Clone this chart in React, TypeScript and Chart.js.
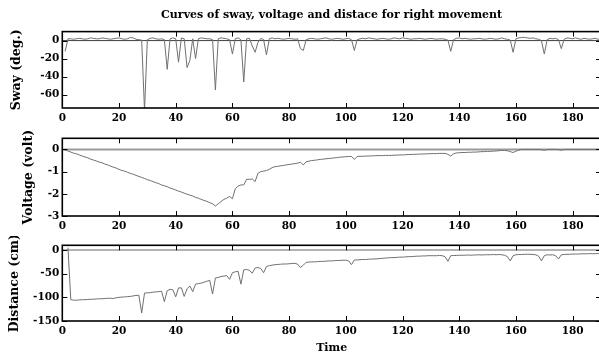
import React, { useEffect, useRef } from "react";
import { Chart, registerables } from "chart.js";

Chart.register(...registerables);

// ---------------- data ----------------
const titleText = "Curves of sway, voltage and distace for right movement";
const xTicks = [0, 20, 40, 60, 80, 100, 120, 140, 160, 180];
const xRange = [0, 190];
const swayTicks = [-60, -40, -20, 0];
const voltTicks = [-3, -2, -1, 0];
const distTicks = [-150, -100, -50, 0];
const zeroLine = [0, 0];

// sampled once per time unit, t = 0 .. 190
const sway: (number | null)[] = [
  null, -12, 2, 2, 1.5, 2, 2.5, 2, 1.5, 2,
  3, 2.5, 2, 2, 3, 2.5, 2, 1.5, 2, 2.5,
  3, 2, 1.5, 2, 3.5, 3, 1.5, 1, 0.5, -78,
  1, 2.5, 3, 2, 1.5, 2, 1, -32, 2, 3,
  2, -24, 3, 2, -30, -22, 2, -20, 2, 3,
  2.5, 2, 2, 1, -55, 2, 3, 2.5, 2, 1,
  -15, 2, 3, 1, -46, 2, 2.5, -6, -13, -2,
  2.5, 1, -16, 2, 3, 2, 2.5, 2, 1.5, 2,
  2.5, 2, 1.5, 2, -9, -11, 1, 2, 2.5, 2,
  1.5, 2, 2.5, 3, 2, 1.5, 2, 2.5, 2, 1.5,
  2, 2.5, 1, -11, 1, 2, 2.5, 2, 3, 2.5,
  2, 1.5, 2, 2.5, 2, 1.5, 2, 3, 2.5, 2,
  3, 2.5, 2, 1.5, 2, 2, 2.5, 2, 1.5, 2,
  2.5, 2, 1.5, 2, 2, 1.5, 0.5, -12, 1, 2.5,
  3, 2, 2.5, 2, 1.5, 2, 2, 2.5, 2, 1.5,
  2, 2.5, 2, 1.5, 2, 3, 2, 1.5, 0.5, -13,
  2, 3, 3.5, 3.5, 3, 2.5, 3, 2, 1.5, 0,
  -15, 1, 2.5, 2, 2.5, 1, -9, 1.5, 3, 2.5,
  2, 3, 2, 1.5, 2.5, 2, 1.5, 2, 2.5, 1.5, 2,
];

const voltage: (number | null)[] = [
  0, -0.03, -0.07, -0.12, -0.17, -0.2, -0.25, -0.3, -0.34, -0.38,
  -0.44, -0.48, -0.52, -0.57, -0.6, -0.66, -0.7, -0.75, -0.8, -0.84,
  -0.9, -0.95, -0.98, -1.03, -1.08, -1.12, -1.17, -1.22, -1.26, -1.31,
  -1.36, -1.4, -1.45, -1.5, -1.54, -1.6, -1.64, -1.68, -1.74, -1.78,
  -1.83, -1.88, -1.92, -1.97, -2.02, -2.06, -2.1, -2.16, -2.2, -2.25,
  -2.3, -2.34, -2.4, -2.45, -2.55, -2.45, -2.35, -2.25, -2.2, -2.12,
  -2.22, -1.78, -1.65, -1.6, -1.6, -1.35, -1.35, -1.33, -1.45, -1.08,
  -1.0, -0.98, -0.95, -0.9, -0.82, -0.78, -0.76, -0.74, -0.72, -0.7,
  -0.68, -0.66, -0.64, -0.62, -0.58, -0.7, -0.56, -0.53, -0.5, -0.49,
  -0.47, -0.45, -0.44, -0.42, -0.41, -0.4, -0.38, -0.37, -0.35, -0.34,
  -0.33, -0.32, -0.32, -0.45, -0.32, -0.31, -0.31, -0.3, -0.3, -0.29,
  -0.29, -0.28, -0.28, -0.28, -0.27, -0.27, -0.27, -0.26, -0.26, -0.25,
  -0.25, -0.24, -0.23, -0.23, -0.22, -0.22, -0.21, -0.21, -0.2, -0.2,
  -0.19, -0.19, -0.19, -0.18, -0.18, -0.18, -0.22, -0.3, -0.2, -0.16,
  -0.15, -0.14, -0.14, -0.13, -0.13, -0.12, -0.12, -0.11, -0.1, -0.1,
  -0.09, -0.09, -0.08, -0.07, -0.06, -0.04, -0.05, -0.06, -0.1, -0.14,
  -0.08, -0.03, 0, 0, 0, 0, 0, 0, 0, -0.01,
  -0.04, 0, 0, 0, 0, -0.01, -0.04, 0, 0, 0,
  0, 0, 0, 0, 0, 0, 0, 0, 0, 0, 0,
];

const distance: (number | null)[] = [
  null, null, 5, -105, -106, -106, -105.5, -105, -105, -104.5,
  -104, -104, -103.5, -103, -103, -102.5, -102, -102, -102.5, -101,
  -100, -99.5, -99, -98.5, -98, -97, -96, -95.5, -133, -91,
  -90.5, -90, -89, -88.5, -88, -87, -109, -86, -83, -84,
  -99, -80, -80, -98, -82, -76, -88, -72, -71, -70,
  -68, -66, -64, -93, -59, -58, -56, -55, -54, -62,
  -48, -46, -45, -72, -42, -41, -43, -49, -38, -37,
  -39, -48, -35, -33, -32, -31, -30.5, -30, -29.5, -29.5,
  -29, -28.5, -28, -30, -37, -32, -26, -25.5, -25, -25,
  -24.5, -24, -24, -23.5, -23, -23, -22.5, -22, -22, -21.5,
  -21.5, -23, -31, -21, -21, -20.5, -20, -20, -19.5, -19,
  -19, -18.5, -18, -17.5, -17, -16.5, -16, -16, -15.5, -15,
  -15, -14.5, -14, -14, -13.5, -13, -13, -12.5, -12.5, -12,
  -12, -12, -12, -11.5, -12, -14, -24, -12, -11.5, -11.5,
  -11, -11, -11, -10.5, -11, -10.5, -10.5, -10, -10.5, -10,
  -10, -10, -9.5, -10, -9.5, -10, -11, -14, -23, -12,
  -10, -9.5, -9.5, -9, -9, -9, -9.5, -10, -13, -23,
  -12, -10, -10.5, -10, -12, -19, -10, -9.5, -9, -9,
  -8.5, -8.5, -8.5, -8, -8, -8, -7.5, -8, -7.5, -7.5, -7,
];

// ---------------- styling ----------------
const FONT = "'DejaVu Serif', 'Liberation Serif', serif";
const CANVAS_W = 601;
const Y_AXIS_W = 62.3;

const boxPlugin = {
  id: "matlabBox",
  afterDatasetsDraw(chart: any) {
    const { ctx, chartArea: a, scales } = chart;
    const L = 5;
    ctx.save();
    ctx.strokeStyle = "#000";
    ctx.lineWidth = 1;
    ctx.beginPath();
    scales.x.ticks.forEach((t: any) => {
      const px = Math.round(scales.x.getPixelForValue(t.value)) + 0.5;
      ctx.moveTo(px, a.top);
      ctx.lineTo(px, a.top + L);
      ctx.moveTo(px, a.bottom);
      ctx.lineTo(px, a.bottom - L);
    });
    scales.y.ticks.forEach((t: any) => {
      const py = Math.round(scales.y.getPixelForValue(t.value)) + 0.5;
      ctx.moveTo(a.left, py);
      ctx.lineTo(a.left + L, py);
      ctx.moveTo(a.right, py);
      ctx.lineTo(a.right - L, py);
    });
    ctx.stroke();
    ctx.lineWidth = 1.6;
    ctx.strokeRect(a.left, a.top, a.right - a.left, a.bottom - a.top);
    ctx.restore();
  },
};

type PanelProps = {
  top: number;
  height: number;
  padTop: number;
  xAxisHeight: number;
  values: (number | null)[];
  yMin: number;
  yMax: number;
  yTicks: number[];
  yLabel: string;
  yLabelOffset: number;
  zeroColor: string;
  zeroWidth: number;
  title?: string;
  xTitle?: string;
};

function Panel(p: PanelProps) {
  const ref = useRef<HTMLCanvasElement>(null);
  useEffect(() => {
    if (!ref.current) return;
    const tickFont = { family: FONT, size: 10.5, weight: "bold" as const };
    const chart = new Chart(ref.current, {
      type: "line",
      data: {
        datasets: [
          {
            data: p.values.map((v, i) => ({ x: i, y: v })) as any,
            borderColor: "#707070",
            borderWidth: 1,
            pointRadius: 0,
            tension: 0,
            spanGaps: false,
            order: 0,
          },
          {
            data: zeroLine.map((v, i) => ({ x: xRange[i], y: v })) as any,
            borderColor: p.zeroColor,
            borderWidth: p.zeroWidth,
            pointRadius: 0,
            order: 1,
          },
        ],
      },
      options: {
        animation: false,
        responsive: false,
        events: [],
        layout: { padding: { top: p.padTop, left: 0, right: 0, bottom: 0 } },
        plugins: {
          legend: { display: false },
          tooltip: { enabled: false },
          title: p.title
            ? {
                display: true,
                text: p.title,
                fullSize: false,
                color: "#000",
                font: { family: FONT, size: 11, weight: "bold" },
                padding: { top: 9, bottom: 9.4 },
              }
            : { display: false },
        },
        scales: {
          x: {
            type: "linear",
            min: xRange[0],
            max: xRange[1],
            grid: { display: false, drawTicks: false },
            border: { display: false },
            ticks: {
              color: "#000",
              font: tickFont,
              padding: 4,
              maxRotation: 0,
              autoSkip: false,
            },
            afterBuildTicks: (s: any) => {
              s.ticks = xTicks.map((v) => ({ value: v }));
            },
            afterFit: (s: any) => {
              s.height = p.xAxisHeight;
            },
            title: p.xTitle
              ? {
                  display: true,
                  text: p.xTitle,
                  color: "#000",
                  font: { family: FONT, size: 11, weight: "bold" },
                  padding: { top: 0, bottom: 1 },
                }
              : { display: false },
          },
          y: {
            type: "linear",
            min: p.yMin,
            max: p.yMax,
            grid: { display: false, drawTicks: false },
            border: { display: false },
            ticks: { color: "#000", font: tickFont, padding: 3 },
            afterBuildTicks: (s: any) => {
              s.ticks = p.yTicks.map((v) => ({ value: v }));
            },
            afterFit: (s: any) => {
              s.width = Y_AXIS_W;
            },
            title: {
              display: true,
              text: p.yLabel,
              color: "#000",
              font: { family: FONT, size: 12.5, weight: "bold" },
              padding: { top: p.yLabelOffset, bottom: 0 },
            },
          },
        },
      },
      plugins: [boxPlugin],
    });
    return () => chart.destroy();
  }, []);
  return (
    <canvas
      ref={ref}
      width={CANVAS_W}
      height={p.height}
      style={{ position: "absolute", left: 0, top: p.top, width: CANVAS_W, height: p.height }}
    />
  );
}

export default function App() {
  return (
    <div
      style={{
        position: "fixed",
        left: 0,
        top: 0,
        width: 599,
        height: 356,
        overflow: "hidden",
        background: "#fff",
      }}
    >
      <Panel
        top={0}
        height={128}
        padTop={0}
        xAxisHeight={20}
        values={sway}
        yMin={-75}
        yMax={10}
        yTicks={swayTicks}
        yLabel="Sway (deg.)"
        yLabelOffset={9.5}
        zeroColor="#404040"
        zeroWidth={1}
        title={titleText}
      />
      <Panel
        top={128}
        height={108}
        padTop={10.3}
        xAxisHeight={20}
        values={voltage}
        yMin={-3}
        yMax={0.5}
        yTicks={voltTicks}
        yLabel="Voltage (volt)"
        yLabelOffset={21.5}
        zeroColor="#9a9a9a"
        zeroWidth={2}
      />
      <Panel
        top={236}
        height={120}
        padTop={9}
        xAxisHeight={35}
        values={distance}
        yMin={-150}
        yMax={10}
        yTicks={distTicks}
        yLabel="Distance (cm)"
        yLabelOffset={7.5}
        zeroColor="#9a9a9a"
        zeroWidth={1.5}
        xTitle="Time"
      />
    </div>
  );
}
